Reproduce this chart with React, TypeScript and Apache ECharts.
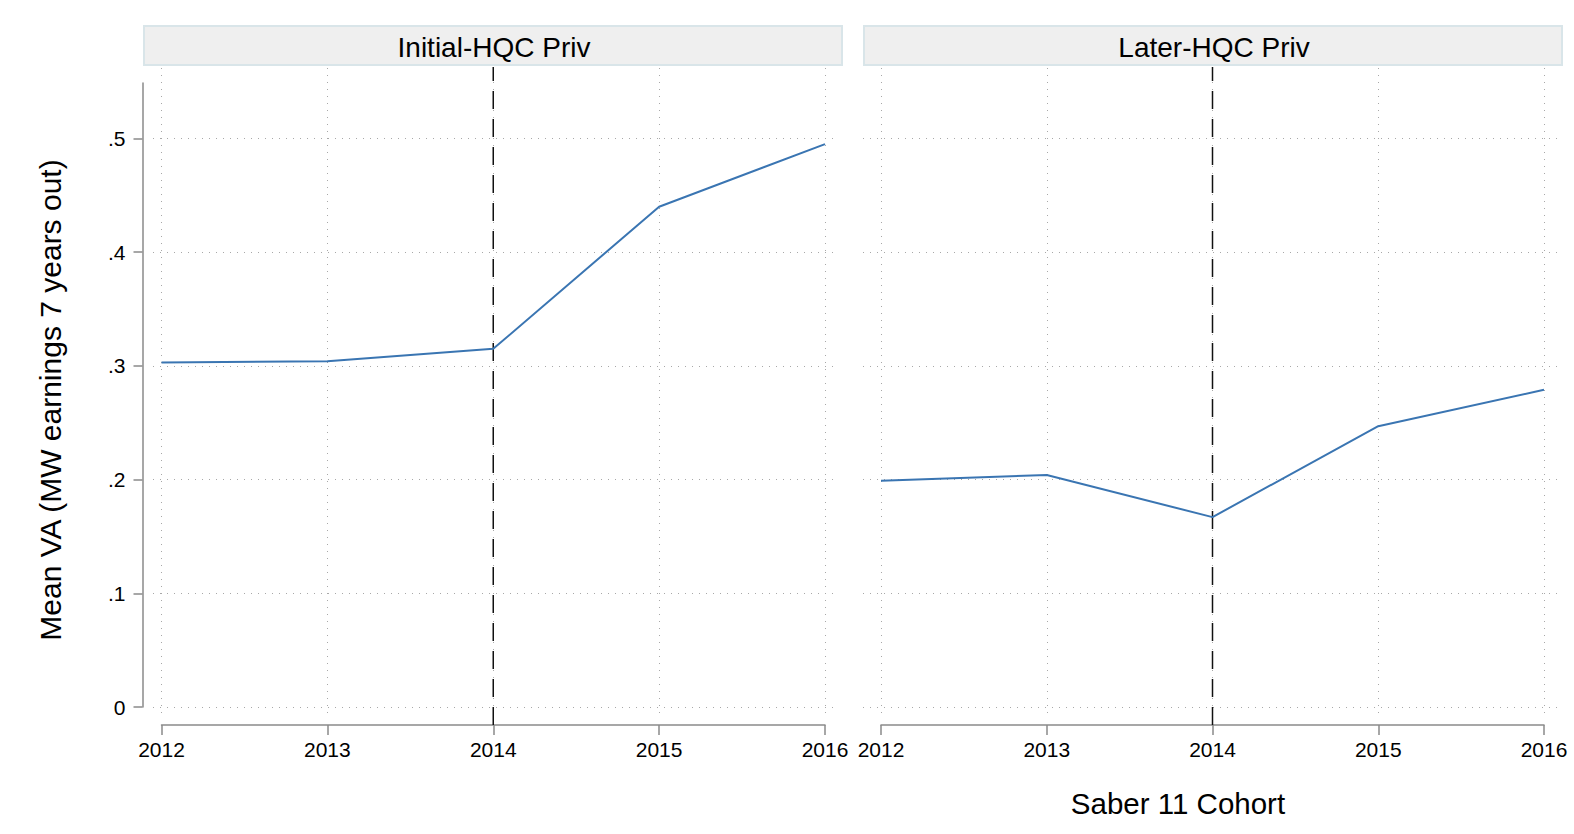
import React, { useEffect, useRef } from "react";
import * as echarts from "echarts";

const YEARS = [2012, 2013, 2014, 2015, 2016];
const INITIAL_HQC = [0.303, 0.304, 0.315, 0.44, 0.495];
const LATER_HQC = [0.199, 0.204, 0.167, 0.247, 0.279];
const PANEL_TITLES = ["Initial-HQC Priv", "Later-HQC Priv"];
const PANEL_VALUES = [INITIAL_HQC, LATER_HQC];
const POLICY_YEAR = 2014;
const Y_MIN = 0;
const Y_MAX = 0.5;
const Y_STEP = 0.1;
const Y_TITLE = "Mean VA (MW earnings 7 years out)";
const X_TITLE = "Saber 11 Cohort";

const FONT = "'Liberation Sans', Arial, Helvetica, sans-serif";
const AXIS_GRAY = "#8a8a8a";
const GRID_GRAY = "#a8a8a8";
const LINE_BLUE = "#3a75b2";

// layout (pixels)
const H = 834;
const W = 1574;
const DATA_L = [161.5, 881];
const DATA_R = [825, 1544];
const HGRID_L = [153, 863];
const HGRID_R = [838, 1557];
const HEAD_L = [144, 864];
const HEAD_R = [842, 1562];
const Y0_PX = 707;
const Y5_PX = 138.5;

export default function App() {
  const ref = useRef<HTMLDivElement>(null);
  useEffect(() => {
    if (!ref.current) return;
    const chart = echarts.init(ref.current, undefined, { renderer: "svg" });

    const grids: any[] = [];
    const xAxes: any[] = [];
    const yAxes: any[] = [];
    const series: any[] = [];

    const addGrid = (left: number, right: number, top: number, bottom: number, xa: any, ya: any) => {
      const idx = grids.length;
      grids.push({ left, top, width: right - left, height: bottom - top, containLabel: false });
      xAxes.push({ gridIndex: idx, type: "value", ...xa });
      yAxes.push({ gridIndex: idx, type: "value", ...ya });
      return idx;
    };

    const hidden = {
      axisLine: { show: false, onZero: false },
      axisTick: { show: false },
      axisLabel: { show: false },
      splitLine: { show: false },
    };

    for (let p = 0; p < 2; p++) {
      // horizontal dotted grid lines
      addGrid(HGRID_L[p], HGRID_R[p], Y5_PX, Y0_PX, { min: 0, max: 1, ...hidden }, {
        min: Y_MIN,
        max: Y_MAX,
        interval: Y_STEP,
        ...hidden,
        splitLine: { show: true, lineStyle: { color: GRID_GRAY, width: 1, type: [1, 6] } },
      });
      // vertical dotted grid lines
      addGrid(DATA_L[p], DATA_R[p], 68, 718, {
        min: YEARS[0],
        max: YEARS[YEARS.length - 1],
        interval: 1,
        ...hidden,
        splitLine: { show: true, lineStyle: { color: GRID_GRAY, width: 1, type: [1, 6] } },
      }, { min: 0, max: 1, ...hidden });
      // extended y axis line (left panel only)
      if (p === 0) {
        addGrid(DATA_L[p], DATA_R[p], 83, Y0_PX, { min: 0, max: 1, ...hidden }, {
          min: 0,
          max: 1,
          ...hidden,
          offset: 19,
          axisLine: { show: true, onZero: false, lineStyle: { color: AXIS_GRAY, width: 1.5 } },
        });
      }
      // dashed policy line
      const dIdx = addGrid(DATA_L[p], DATA_R[p], 67, 725, {
        min: YEARS[0],
        max: YEARS[YEARS.length - 1],
        ...hidden,
      }, { min: 0, max: 1, ...hidden });
      series.push({
        type: "line",
        xAxisIndex: dIdx,
        yAxisIndex: dIdx,
        data: [
          [POLICY_YEAR, 0],
          [POLICY_YEAR, 1],
        ],
        symbol: "none",
        silent: true,
        lineStyle: { color: "#111", width: 1.5, type: [18, 10] },
        z: 3,
      });
      // data grid
      const gIdx = addGrid(DATA_L[p], DATA_R[p], Y5_PX, Y0_PX, {
        min: YEARS[0],
        max: YEARS[YEARS.length - 1],
        interval: 1,
        offset: 18,
        axisLine: { show: true, onZero: false, lineStyle: { color: AXIS_GRAY, width: 1.5 } },
        axisTick: { show: true, inside: false, length: 10, lineStyle: { color: AXIS_GRAY, width: 1.5 } },
        axisLabel: {
          show: true,
          margin: 14,
          color: "#000",
          fontSize: 21,
          fontFamily: FONT,
          formatter: (v: number) => String(v),
        },
        splitLine: { show: false },
      }, p === 0
        ? {
            min: Y_MIN,
            max: Y_MAX,
            interval: Y_STEP,
            offset: 19,
            axisLine: { show: false, onZero: false },
            axisTick: { show: true, inside: false, length: 9, lineStyle: { color: AXIS_GRAY, width: 1.5 } },
            axisLabel: {
              show: true,
              margin: 17,
              color: "#000",
              fontSize: 21,
              fontFamily: FONT,
              formatter: (v: number) => (Math.abs(v) < 1e-9 ? "0" : v.toFixed(1).replace(/^0/, "")),
            },
            splitLine: { show: false },
          }
        : { min: Y_MIN, max: Y_MAX, interval: Y_STEP, ...hidden });
      series.push({
        type: "line",
        name: PANEL_TITLES[p],
        xAxisIndex: gIdx,
        yAxisIndex: gIdx,
        data: YEARS.map((y, i) => [y, PANEL_VALUES[p][i]]),
        symbol: "none",
        showSymbol: false,
        lineStyle: { color: LINE_BLUE, width: 2 },
        z: 5,
      });
    }

    const graphics: any[] = [];
    for (let p = 0; p < 2; p++) {
      graphics.push({
        type: "rect",
        shape: { x: HEAD_L[p], y: 26, width: HEAD_R[p] - HEAD_L[p], height: 39 },
        style: { fill: "#efefef", stroke: "#d9e5e9", lineWidth: 2 },
        silent: true,
      });
      graphics.push({
        type: "text",
        x: (HEAD_L[p] + HEAD_R[p]) / 2 + 1,
        y: 47.5,
        style: {
          text: PANEL_TITLES[p],
          fill: "#000",
          font: `28px ${FONT}`,
          textAlign: "center",
          textVerticalAlign: "middle",
        },
        silent: true,
      });
    }
    graphics.push({
      type: "text",
      x: 50,
      y: 400,
      rotation: Math.PI / 2,
      style: {
        text: Y_TITLE,
        fill: "#000",
        font: `30px ${FONT}`,
        textAlign: "center",
        textVerticalAlign: "middle",
      },
      silent: true,
    });
    graphics.push({
      type: "text",
      x: 1178,
      y: 803,
      style: {
        text: X_TITLE,
        fill: "#000",
        font: `29.5px ${FONT}`,
        textAlign: "center",
        textVerticalAlign: "middle",
      },
      silent: true,
    });

    chart.setOption({
      animation: false,
      backgroundColor: "#fff",
      grid: grids,
      xAxis: xAxes,
      yAxis: yAxes,
      series,
      graphic: graphics,
    });
    return () => chart.dispose();
  }, []);

  return (
    <div
      ref={ref}
      style={{ position: "fixed", left: 0, top: 0, width: W, height: H, background: "#fff" }}
    />
  );
}
